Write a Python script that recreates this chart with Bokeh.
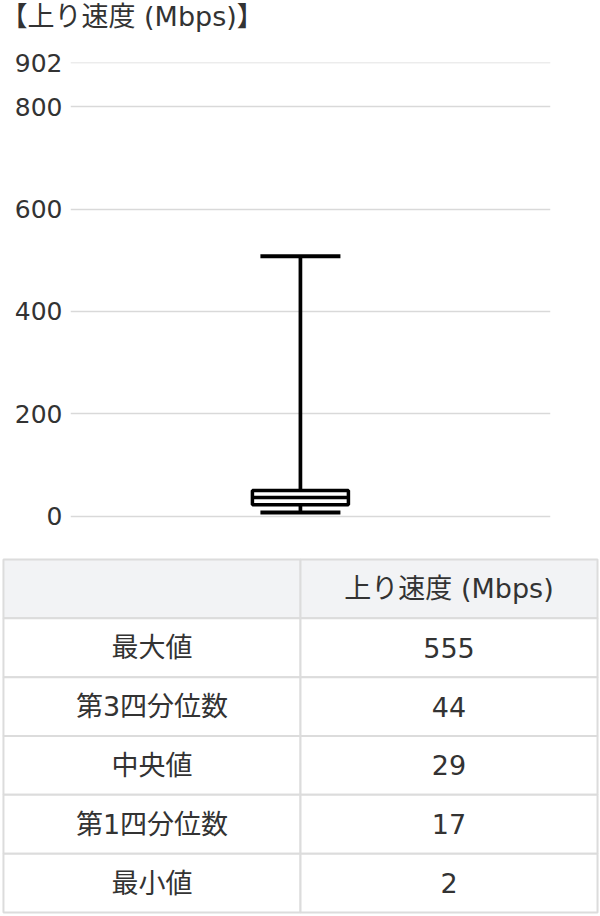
from bokeh.plotting import figure
from bokeh.layouts import column
from bokeh.models import Range1d, FactorRange, FixedTicker, ColumnDataSource, Label
from bokeh.core.properties import value
from bokeh.embed import file_html
from bokeh.resources import INLINE

# ---------------- data ----------------
title_text = "【上り速度 (Mbps)】"
categories = ["上り速度"]
whisker_low = [7]
box_q1 = [22]
box_median = [36]
box_q3 = [50]
whisker_high = [508]

ytick_values = [0, 200, 400, 600, 800, 886]
ytick_labels = ["0", "200", "400", "600", "800", "902"]

table_columns = ["", "上り速度 (Mbps)"]
row_labels = ["最大値", "第3四分位数", "中央値", "第1四分位数", "最小値"]
row_values = [555, 44, 29, 17, 2]

# ---------------- styles ----------------
MIX = "DejaVu Sans, Noto Sans CJK JP"
TXT = "#333333"
GRID = "#d9d9d9"
BORDER = "#dcdcdc"
HEAD_BG = "#f2f3f5"

# ---------------- title strip ----------------
tf = figure(width=600, height=40, output_backend="svg", toolbar_location=None,
            x_axis_location=None, y_axis_location=None,
            min_border_left=0, min_border_right=0, min_border_top=0, min_border_bottom=0,
            frame_align=False)
tf.outline_line_color = None
tf.xgrid.visible = False
tf.ygrid.visible = False
tf.add_layout(Label(x=0, y=40, x_units="screen", y_units="screen", text=title_text,
                    text_align="left", text_baseline="top", text_font=MIX,
                    text_font_size="27px", text_color=TXT))

# ---------------- box plot ----------------
p = figure(width=600, height=508, output_backend="svg", toolbar_location=None,
           x_range=Range1d(-0.479, 0.521), y_range=Range1d(-28.3, 886.6),
           x_axis_location=None, y_axis_location="left",
           min_border_left=70, min_border_right=50, min_border_top=22, min_border_bottom=18,
           frame_align=False)
p.outline_line_color = None

ax = p.yaxis[0]
ax.ticker = FixedTicker(ticks=ytick_values)
ax.major_label_overrides = {v: l for v, l in zip(ytick_values, ytick_labels)}
ax.axis_line_color = None
ax.major_tick_line_color = None
ax.minor_tick_line_color = None
ax.major_tick_out = 0
ax.major_tick_in = 0
ax.minor_tick_out = 0
ax.major_label_standoff = 8
ax.major_label_text_font = "DejaVu Sans"
ax.major_label_text_font_size = "25px"
ax.major_label_text_color = TXT

p.xgrid.visible = False
p.ygrid.grid_line_color = GRID
p.ygrid.grid_line_width = 1.5

xpos = list(range(len(categories)))
box_w = 0.2
cap_w = 0.1667

src = ColumnDataSource(dict(
    x=xpos, lo=whisker_low, q1=box_q1, med=box_median, q3=box_q3, hi=whisker_high,
    bx0=[x - box_w / 2 for x in xpos], bx1=[x + box_w / 2 for x in xpos],
    cx0=[x - cap_w / 2 for x in xpos], cx1=[x + cap_w / 2 for x in xpos],
))

p.segment(x0="x", y0="lo", x1="x", y1="hi", source=src, line_color="black", line_width=3.7)
p.segment(x0="cx0", y0="hi", x1="cx1", y1="hi", source=src, line_color="black", line_width=4)
p.segment(x0="cx0", y0="lo", x1="cx1", y1="lo", source=src, line_color="black", line_width=4)
p.vbar(x="x", bottom="q1", top="q3", width=box_w, source=src,
       fill_color="white", line_color="black", line_width=3.5)
p.segment(x0="bx0", y0="med", x1="bx1", y1="med", source=src, line_color="black", line_width=3.5)

# ---------------- table ----------------
col_keys = ["label", "value"]
row_keys = ["header"] + row_labels

t = figure(width=600, height=368, output_backend="svg", toolbar_location=None,
           x_range=FactorRange(factors=col_keys, range_padding=0.01, range_padding_units="absolute"),
           y_range=FactorRange(factors=list(reversed(row_keys)), range_padding=0.067,
                               range_padding_units="absolute"),
           x_axis_location=None, y_axis_location=None,
           min_border_left=0, min_border_right=0, min_border_top=7, min_border_bottom=0,
           frame_align=False)
t.outline_line_color = None
t.xgrid.visible = False
t.ygrid.visible = False

xs, ys, fills, texts = [], [], [], []
for ci, ck in enumerate(col_keys):
    xs.append(ck); ys.append("header"); fills.append(HEAD_BG); texts.append(table_columns[ci])
for lab, val in zip(row_labels, row_values):
    xs.append("label"); ys.append(lab); fills.append("white"); texts.append(lab)
    xs.append("value"); ys.append(lab); fills.append("white"); texts.append(str(val))

tsrc = ColumnDataSource(dict(x=xs, y=ys, fill=fills, text=texts))
t.rect(x="x", y="y", width=1, height=1, source=tsrc, fill_color="fill",
       line_color=BORDER, line_width=2)
t.text(x="x", y="y", text="text", source=tsrc, text_align="center", text_baseline="middle",
       text_font=value(MIX), text_font_size="27px", text_color=TXT)

layout = column(tf, p, t, spacing=0)
open("out.html", "w").write(file_html(layout, INLINE))
